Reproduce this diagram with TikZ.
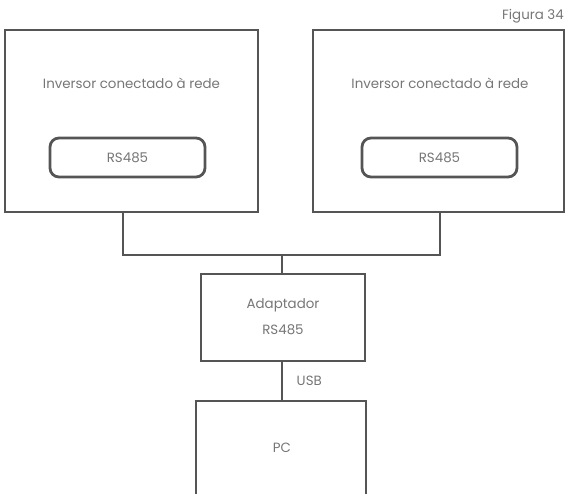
\documentclass[tikz,border=0pt]{standalone}
\usepackage{fontspec}
\setmainfont{Poppins}
\definecolor{linegray}{HTML}{555555}
\definecolor{textgray}{HTML}{767676}
\begin{document}
\begin{tikzpicture}[x=1pt, y=-1pt,
        block/.style={rectangle, draw=linegray, line width=2.8pt, text=textgray, inner sep=0pt},
        pill/.style={rectangle, rounded corners=9pt, draw=linegray, line width=2.8pt, text=textgray, minimum width=155pt, minimum height=39pt},
        label/.style={text=textgray, font=\fontsize{13.4}{15}\selectfont},
        wire/.style={draw=linegray, line width=2.8pt},
        ]
        \clip (0,0) rectangle (567,494);
        \useasboundingbox (0,0) rectangle (567,494);

        \node (inv1) at (131.5,121) [block, minimum width=253pt, minimum height=182pt] {};
        \node (inv2) at (438.5,121) [block, minimum width=251pt, minimum height=182pt] {};
        \node (adapter) at (283,317.5) [block, minimum width=164pt, minimum height=87pt] {};
        \node (pc) at (281,460) [block, minimum width=170pt, minimum height=118pt] {};

        \node (title1) at (131.5,83) [label] {Inversor conectado à rede};
        \node (title2) at (440,83) [label] {Inversor conectado à rede};
        \node (rs1) at (127.5,157.5) [pill, font=\fontsize{13.4}{15}\selectfont] {RS485};
        \node (rs2) at (439.5,157.5) [pill, font=\fontsize{13.4}{15}\selectfont] {RS485};
        \node (adtext) at (283,305) [label] {Adaptador};
        \node (adrs) at (283,330) [label] {RS485};
        \node (pctext) at (282,448) [label] {PC};
        \node (fig) at (564,16) [label, anchor=east, inner sep=0pt] {Figura 34};

        \coordinate (bus) at (282,255);

        \draw[wire] (inv1.south -| 123,0) |- (bus);
        \draw[wire] (inv2.south -| 440,0) |- (bus);
        \draw[wire] (bus) -- (adapter.north -| bus);
        \draw[wire] (adapter.south -| bus) -- node[label, right=10pt] {USB} (pc.north -| bus);
    \end{tikzpicture}
\end{document}
